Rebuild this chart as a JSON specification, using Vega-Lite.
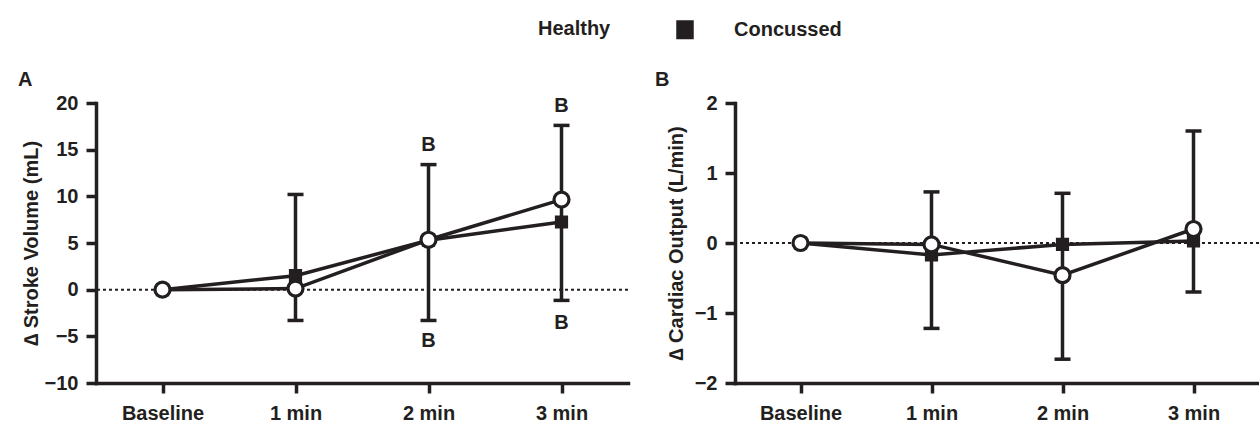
{
  "$schema": "https://vega.github.io/schema/vega-lite/v6.json",
  "autosize": {"type": "pad"},
  "padding": {"left": 18, "top": 0, "right": 0, "bottom": 0},
  "background": "white",
  "spacing": 107,
  "bounds": "flush",
  "datasets": {
    "meanA": [
      {"time": "Baseline", "group": "Concussed", "value": 0},
      {"time": "1 min", "group": "Concussed", "value": 1.5},
      {"time": "2 min", "group": "Concussed", "value": 5.3},
      {"time": "3 min", "group": "Concussed", "value": 7.25},
      {"time": "Baseline", "group": "Healthy", "value": 0},
      {"time": "1 min", "group": "Healthy", "value": 0.12},
      {"time": "2 min", "group": "Healthy", "value": 5.35},
      {"time": "3 min", "group": "Healthy", "value": 9.65}
    ],
    "errA": [
      {"time": "1 min", "lo": -3.3, "hi": 10.2},
      {"time": "2 min", "lo": -3.3, "hi": 13.4},
      {"time": "3 min", "lo": -1.15, "hi": 17.6}
    ],
    "sigA": [
      {"time": "2 min", "y": 15.5, "label": "B"},
      {"time": "2 min", "y": -5.55, "label": "B"},
      {"time": "3 min", "y": 19.7, "label": "B"},
      {"time": "3 min", "y": -3.57, "label": "B"}
    ],
    "meanB": [
      {"time": "Baseline", "group": "Concussed", "value": 0},
      {"time": "1 min", "group": "Concussed", "value": -0.17},
      {"time": "2 min", "group": "Concussed", "value": -0.02},
      {"time": "3 min", "group": "Concussed", "value": 0.03},
      {"time": "Baseline", "group": "Healthy", "value": 0},
      {"time": "1 min", "group": "Healthy", "value": -0.02},
      {"time": "2 min", "group": "Healthy", "value": -0.46},
      {"time": "3 min", "group": "Healthy", "value": 0.2}
    ],
    "errB": [
      {"time": "1 min", "lo": -1.22, "hi": 0.73},
      {"time": "2 min", "lo": -1.66, "hi": 0.71},
      {"time": "3 min", "lo": -0.7, "hi": 1.6}
    ]
  },
  "hconcat": [
    {
      "width": 532,
      "height": 280,
      "title": {"text": "A", "anchor": "start", "frame": "group", "dx": -78, "dy": 19, "offset": 6, "baseline": "alphabetic", "fontSize": 20, "font": "Liberation Sans", "fontWeight": "bold", "color": "#231f20"},
      "encoding": {
        "x": {"field": "time", "type": "ordinal", "scale": {"type": "point", "domain": ["Baseline", "1 min", "2 min", "3 min"], "padding": 0.5}, "axis": {"title": null, "labelAngle": 0, "labelPadding": 10}}
      },
      "layer": [
        {
          "data": {"values": [{}]},
          "mark": {"type": "rule", "strokeDash": [3, 3], "strokeWidth": 2, "color": "#231f20"},
          "encoding": {"x": null, "y": {"datum": 0, "type": "quantitative", "scale": {"domain": [-10, 20], "nice": false}, "axis": {"values": [-10, -5, 0, 5, 10, 15, 20], "format": "d", "title": "∆ Stroke Volume (mL)", "titlePadding": 3, "labelPadding": 8, "labelOverlap": false, "labelFlush": false}}}
        },
        {
          "data": {"name": "errA"},
          "mark": {"type": "rule", "strokeWidth": 3.5, "color": "#231f20"},
          "encoding": {"y": {"field": "lo", "type": "quantitative"}, "y2": {"field": "hi"}}
        },
        {
          "data": {"name": "errA"},
          "mark": {"type": "tick", "size": 16, "thickness": 3.5, "color": "#231f20", "opacity": 1},
          "encoding": {"y": {"field": "lo", "type": "quantitative"}}
        },
        {
          "data": {"name": "errA"},
          "mark": {"type": "tick", "size": 16, "thickness": 3.5, "color": "#231f20", "opacity": 1},
          "encoding": {"y": {"field": "hi", "type": "quantitative"}}
        },
        {
          "data": {"name": "meanA"},
          "mark": {"type": "line", "strokeWidth": 3.5, "color": "#231f20"},
          "encoding": {"y": {"field": "value", "type": "quantitative"}, "detail": {"field": "group"}}
        },
        {
          "data": {"name": "meanA"},
          "mark": {"type": "point", "filled": true, "stroke": "#231f20", "strokeWidth": 4.5, "opacity": 0},
          "encoding": {
            "y": {"field": "value", "type": "quantitative"},
            "fill": {"field": "group", "type": "nominal", "scale": {"domain": ["Healthy", "Concussed"], "range": ["white", "#231f20"]},
              "legend": {
                "orient": "none", "legendX": 364, "legendY": -103, "direction": "horizontal", "title": null,
                "symbolSize": 2809, "symbolStrokeWidth": 4.5, "symbolStrokeColor": "#231f20", "symbolOpacity": 1,
                "labelFontSize": 20, "labelFont": "Liberation Sans", "labelFontWeight": "bold", "labelColor": "#231f20",
                "labelOffset": 20, "columnPadding": 38, "padding": 0
              }},
            "shape": {"field": "group", "type": "nominal", "scale": {"domain": ["Healthy", "Concussed"], "range": ["M-1,0L-0.39,0M0.39,0L1,0M0.39,0A0.39 0.39 0 1 1 -0.39,0A0.39 0.39 0 1 1 0.39,0Z", "M-1,0L1,0M-0.33,-0.36L0.33,-0.36L0.33,0.36L-0.33,0.36Z"]},
              "legend": {
                "orient": "none", "legendX": 364, "legendY": -103, "direction": "horizontal", "title": null,
                "symbolSize": 2809, "symbolStrokeWidth": 4.5, "symbolStrokeColor": "#231f20", "symbolOpacity": 1,
                "labelFontSize": 20, "labelFont": "Liberation Sans", "labelFontWeight": "bold", "labelColor": "#231f20",
                "labelOffset": 20, "columnPadding": 38, "padding": 0
              }}
          }
        },
        {
          "data": {"name": "meanA"},
          "mark": {"type": "point", "filled": true, "stroke": "#231f20", "strokeWidth": 3.2, "opacity": 1},
          "encoding": {
            "y": {"field": "value", "type": "quantitative"},
            "shape": {"condition": {"test": "datum.group === 'Healthy'", "value": "circle"}, "value": "square"},
            "fill": {"condition": {"test": "datum.group === 'Healthy'", "value": "white"}, "value": "#231f20"},
            "size": {"condition": {"test": "datum.group === 'Healthy'", "value": 225}, "value": 100}
          }
        },
        {
          "data": {"name": "sigA"},
          "mark": {"type": "text", "fontSize": 20, "font": "Liberation Sans", "fontWeight": "bold", "color": "#231f20", "baseline": "middle"},
          "encoding": {"y": {"field": "y", "type": "quantitative"}, "text": {"field": "label"}}
        }
      ]
    },
    {
      "width": 524,
      "height": 280,
      "title": {"text": "B", "anchor": "start", "frame": "group", "dx": -80, "dy": 19, "offset": 6, "baseline": "alphabetic", "fontSize": 20, "font": "Liberation Sans", "fontWeight": "bold", "color": "#231f20"},
      "encoding": {
        "x": {"field": "time", "type": "ordinal", "scale": {"type": "point", "domain": ["Baseline", "1 min", "2 min", "3 min"], "padding": 0.5}, "axis": {"title": null, "labelAngle": 0, "labelPadding": 10}}
      },
      "layer": [
        {
          "data": {"values": [{}]},
          "mark": {"type": "rule", "strokeDash": [3, 3], "strokeWidth": 2, "color": "#231f20"},
          "encoding": {"x": null, "y": {"datum": 0, "type": "quantitative", "scale": {"domain": [-2, 2], "nice": false}, "axis": {"values": [-2, -1, 0, 1, 2], "format": "d", "title": "∆ Cardiac Output (L/min)", "titlePadding": 8, "labelPadding": 8, "labelOverlap": false, "labelFlush": false}}}
        },
        {
          "data": {"name": "errB"},
          "mark": {"type": "rule", "strokeWidth": 3.5, "color": "#231f20"},
          "encoding": {"y": {"field": "lo", "type": "quantitative"}, "y2": {"field": "hi"}}
        },
        {
          "data": {"name": "errB"},
          "mark": {"type": "tick", "size": 16, "thickness": 3.5, "color": "#231f20", "opacity": 1},
          "encoding": {"y": {"field": "lo", "type": "quantitative"}}
        },
        {
          "data": {"name": "errB"},
          "mark": {"type": "tick", "size": 16, "thickness": 3.5, "color": "#231f20", "opacity": 1},
          "encoding": {"y": {"field": "hi", "type": "quantitative"}}
        },
        {
          "data": {"name": "meanB"},
          "mark": {"type": "line", "strokeWidth": 3.5, "color": "#231f20"},
          "encoding": {"y": {"field": "value", "type": "quantitative"}, "detail": {"field": "group"}}
        },
        {
          "data": {"name": "meanB"},
          "mark": {"type": "point", "filled": true, "stroke": "#231f20", "strokeWidth": 3.2, "opacity": 1},
          "encoding": {
            "y": {"field": "value", "type": "quantitative"},
            "shape": {"condition": {"test": "datum.group === 'Healthy'", "value": "circle"}, "value": "square"},
            "fill": {"condition": {"test": "datum.group === 'Healthy'", "value": "white"}, "value": "#231f20"},
            "size": {"condition": {"test": "datum.group === 'Healthy'", "value": 225}, "value": 100}
          }
        }
      ]
    }
  ],
  "config": {
    "view": {"stroke": null},
    "axis": {
      "grid": false,
      "domainColor": "#231f20", "domainWidth": 3.5, "domainCap": "square",
      "tickColor": "#231f20", "tickWidth": 3.5, "tickSize": 10,
      "labelFont": "Liberation Sans", "labelFontSize": 20, "labelFontWeight": "bold", "labelColor": "#231f20",
      "titleFont": "Liberation Sans", "titleFontSize": 20, "titleFontWeight": "bold", "titleColor": "#231f20"
    }
  }
}
